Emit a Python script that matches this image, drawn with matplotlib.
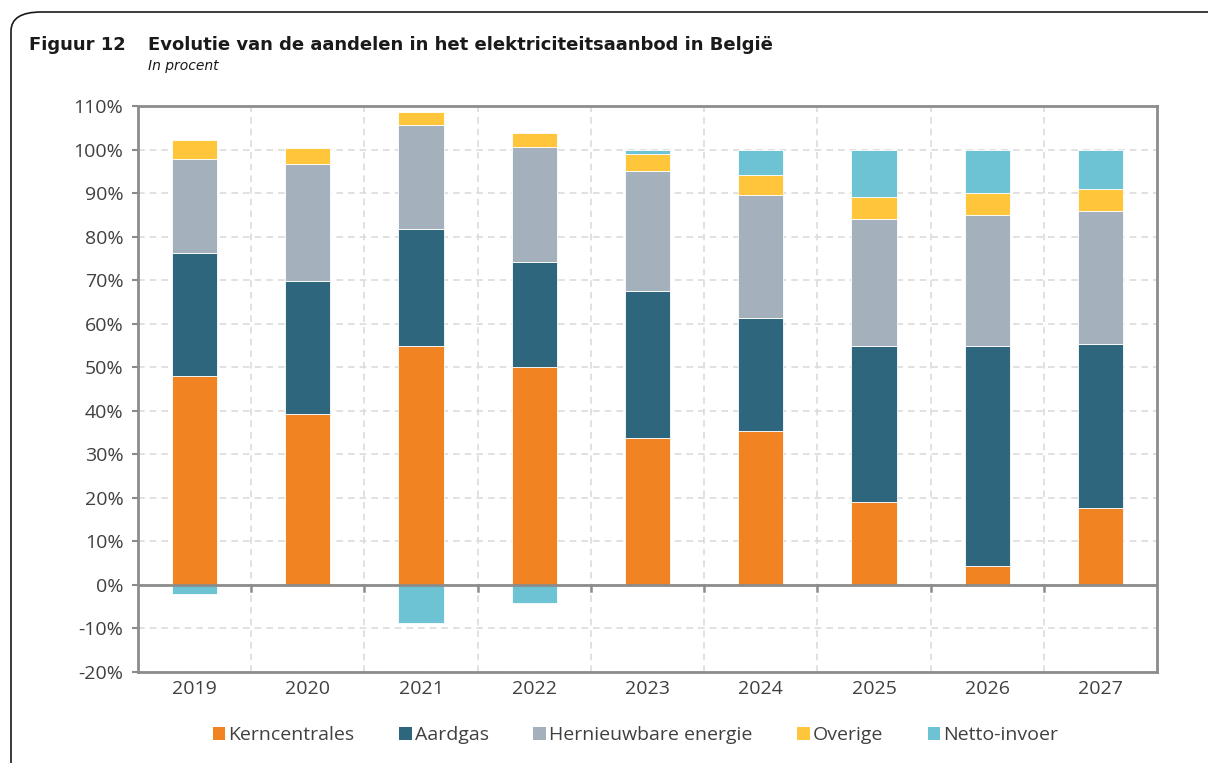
import numpy as np
import matplotlib.pyplot as plt
from matplotlib.patches import FancyBboxPatch, Patch

# --- data (aflezing uit de grafiek, in procent) ---
jaren = ['2019', '2020', '2021', '2022', '2023', '2024', '2025', '2026', '2027']
kerncentrales = [48.0, 39.3, 54.9, 50.1, 33.7, 35.4, 19.0, 4.4, 17.7]
aardgas = [28.3, 30.6, 26.8, 24.0, 33.9, 25.9, 35.8, 50.5, 37.7]
hernieuwbaar = [21.5, 26.7, 23.9, 26.4, 27.4, 28.2, 29.3, 30.0, 30.4]
overige = [4.3, 3.8, 3.1, 3.4, 4.0, 4.7, 5.1, 5.2, 5.2]
netto_invoer = [-2.2, -0.3, -8.7, -4.1, 1.0, 5.8, 10.8, 9.9, 9.0]

reeksen = ['Kerncentrales', 'Aardgas', 'Hernieuwbare energie', 'Overige', 'Netto-invoer']
kleuren = ['#F28322', '#2E677D', '#A5B0BD', '#FFC63C', '#6DC3D3']

plt.rcParams['font.family'] = ['Open Sans', 'DejaVu Sans']

fig = plt.figure(figsize=(12.08, 7.63), dpi=100)
ax = fig.add_axes([0.1142, 0.1193, 0.8436, 0.7418])

x = np.arange(len(jaren))
breedte = 0.4
pos_bottom = np.zeros(len(jaren))
neg_bottom = np.zeros(len(jaren))
for waarden, kleur in zip([kerncentrales, aardgas, hernieuwbaar, overige, netto_invoer], kleuren):
    w = np.array(waarden)
    bottom = np.where(w >= 0, pos_bottom, neg_bottom)
    ax.bar(x, w, breedte, bottom=bottom, color=kleur, edgecolor='white', linewidth=0.6, zorder=3)
    pos_bottom = pos_bottom + np.where(w >= 0, w, 0)
    neg_bottom = neg_bottom + np.where(w < 0, w, 0)

ax.set_xlim(-0.5, len(jaren) - 0.5)
ax.set_ylim(-20, 110)
ax.set_yticks(np.arange(-20, 111, 10))
ax.set_yticklabels([f'{v}%' for v in range(-20, 111, 10)], fontsize=14, color='#404040')
ax.set_xticks(x)
ax.set_xticklabels(jaren, fontsize=14, color='#404040')
ax.tick_params(axis='x', length=0, pad=6)
ax.tick_params(axis='y', length=4.5, width=1.5, color='#8c8c8c', pad=6)

# grid
for yv in range(-20, 111, 10):
    ax.axhline(yv, color='#dcdcdc', linestyle=(0, (4, 3)), linewidth=1.2, zorder=1)
for xv in np.arange(0.5, len(jaren) - 0.5, 1):
    ax.axvline(xv, color='#dcdcdc', linestyle=(0, (4, 3)), linewidth=1.2, zorder=1)
    ax.plot([xv, xv], [0, -1.4], color='#8c8c8c', linewidth=1.8, zorder=4)

ax.axhline(0, color='#8c8c8c', linewidth=2, zorder=4)
for s in ax.spines.values():
    s.set_color('#8c8c8c')
    s.set_linewidth(2)

# titel
fig.text(29 / 1208, 1 - 45 / 763, 'Figuur 12', fontsize=13, fontweight='bold',
         family='DejaVu Sans', va='center', color='#1a1a1a')
fig.text(148 / 1208, 1 - 45 / 763, 'Evolutie van de aandelen in het elektriciteitsaanbod in België',
         fontsize=13, fontweight='bold', family='DejaVu Sans', va='center', color='#1a1a1a')
fig.text(148 / 1208, 1 - 66 / 763, 'In procent', fontsize=10, style='italic',
         family='DejaVu Sans', va='center', color='#1a1a1a')

# legenda
handles = [Patch(facecolor=k, edgecolor='none') for k in kleuren]
fig.legend(handles, reeksen, loc='center', bbox_to_anchor=(0.526, 1 - 735 / 763), ncol=5,
           frameon=False, fontsize=14, handlelength=0.65, handleheight=0.65,
           handletextpad=0.15, columnspacing=2.3, labelcolor='#404040')

# afgeronde kader
kader = FancyBboxPatch((11 / 1208, -0.05), 1.05, 1 - 12 / 763 + 0.05,
                       boxstyle='round,pad=0,rounding_size=0.025', transform=fig.transFigure,
                       facecolor='none', edgecolor='#1a1a1a', linewidth=1.2)
fig.patches.append(kader)

fig.savefig('out.png', dpi=100)
